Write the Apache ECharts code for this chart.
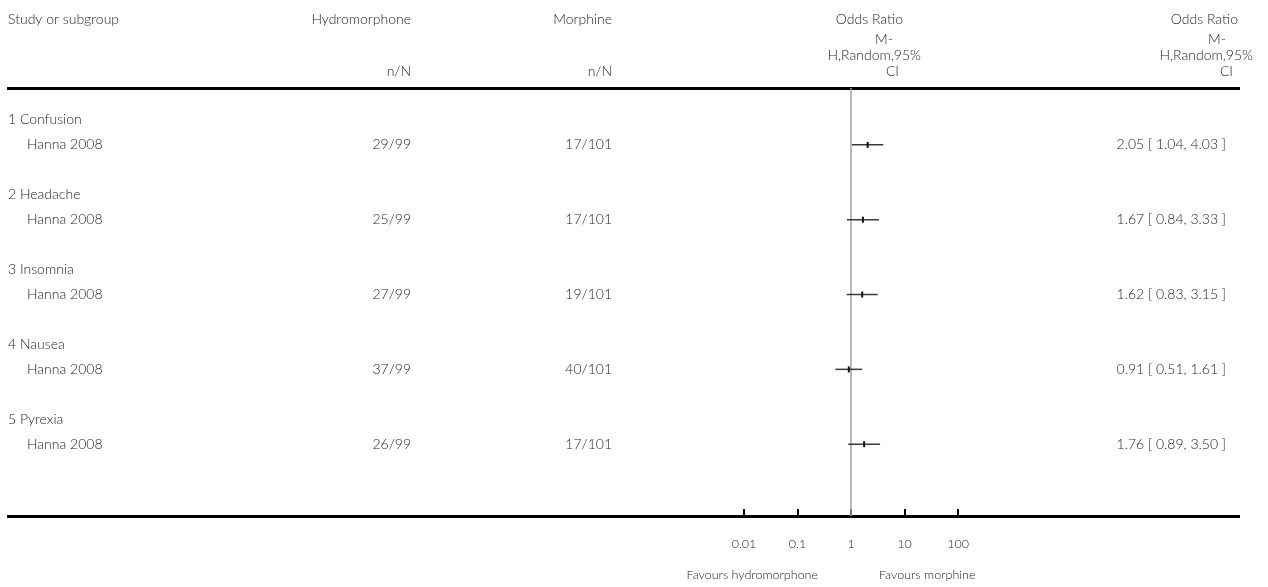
<!DOCTYPE html>
<html>
<head>
<meta charset="utf-8">
<script src="https://cdn.jsdelivr.net/npm/echarts@6/dist/echarts.min.js"></script>
<style>
html,body{margin:0;padding:0;background:#fff;}
#chart{width:1268px;height:587px;}
</style>
</head>
<body>
<div id="chart"></div>
<script>
// ---- data ----
const groups = ['1 Confusion', '2 Headache', '3 Insomnia', '4 Nausea', '5 Pyrexia'];
const studies = ['Hanna 2008', 'Hanna 2008', 'Hanna 2008', 'Hanna 2008', 'Hanna 2008'];
const hydromorphone = ['29/99', '25/99', '27/99', '37/99', '26/99'];
const morphine = ['17/101', '17/101', '19/101', '40/101', '17/101'];
const oddsRatio = [2.05, 1.67, 1.62, 0.91, 1.76];
const ciLow = [1.04, 0.84, 0.83, 0.51, 0.89];
const ciHigh = [4.03, 3.33, 3.15, 1.61, 3.50];
const tickValues = [0.01, 0.1, 1, 10, 100];
const tickLabels = ['0.01', '0.1', '1', '10', '100'];
const headerLeft = 'Study or subgroup';
const headerHydro = 'Hydromorphone';
const headerMorph = 'Morphine';
const headerNN = 'n/N';
const headerOR = ['Odds Ratio', 'M-', 'H,Random,95%', 'CI'];
const favours = ['Favours hydromorphone', 'Favours morphine'];

// ---- layout ----
const FONT = 'Lato, "Open Sans", sans-serif';
const FS = 14;
const TXT = '#1e1e1e';
const gridTop = 88, gridBottomY = 516;
const gridLeft = 744, gridRight = 958;
const yMin = -0.28, yMax = 16.88;

// rows: group header at 3k+1, study at 3k+2
const rowData = groups.map((g, k) => [k, 3 * k + 1, 3 * k + 2]);

function fmt(v) { return v.toFixed(2); }

const chart = echarts.init(document.getElementById('chart'), null, {renderer: 'canvas'});

const textStyle = (x, y, text, align, size) => ({
  type: 'text',
  x: x, y: y,
  style: {text: text, fill: TXT, font: '300 ' + (size || FS) + 'px ' + FONT, align: align, verticalAlign: 'middle'}
});

const option = {
  animation: false,
  backgroundColor: '#fff',
  grid: {left: gridLeft, top: gridTop, width: gridRight - gridLeft, height: gridBottomY - gridTop, containLabel: false},
  xAxis: {
    type: 'log', logBase: 10, min: 0.01, max: 100,
    position: 'bottom',
    axisLine: {show: false, onZero: false},
    axisTick: {show: true, inside: true, length: 7, lineStyle: {color: '#000', width: 2}},
    splitLine: {show: false},
    minorTick: {show: false},
    axisLabel: {
      margin: 21, color: TXT, fontFamily: FONT, fontSize: 12.5, fontWeight: 300,
      formatter: function (v) {
        const i = tickValues.findIndex(t => Math.abs(Math.log10(t) - Math.log10(v)) < 1e-6);
        return i >= 0 ? tickLabels[i] : '';
      }
    }
  },
  yAxis: {type: 'value', inverse: true, min: yMin, max: yMax, show: false},
  series: [
    {
      // line of no effect
      type: 'line',
      data: [[1, yMin], [1, yMax]],
      symbol: 'none',
      lineStyle: {color: '#a0a0a0', width: 1.5},
      z: 1
    },
    {
      type: 'custom',
      data: rowData,
      clip: false,
      renderItem: function (params, api) {
        const k = api.value(0);
        const yHead = api.coord([1, api.value(1)])[1];
        const yStudy = api.coord([1, api.value(2)])[1];
        const pLo = api.coord([ciLow[k], api.value(2)]);
        const pHi = api.coord([ciHigh[k], api.value(2)]);
        const pEst = api.coord([oddsRatio[k], api.value(2)]);
        return {
          type: 'group',
          children: [
            textStyle(8, yHead, groups[k], 'left'),
            textStyle(27, yStudy, studies[k], 'left'),
            textStyle(411, yStudy, hydromorphone[k], 'right'),
            textStyle(612, yStudy, morphine[k], 'right'),
            textStyle(1226, yStudy, fmt(oddsRatio[k]) + ' [ ' + fmt(ciLow[k]) + ', ' + fmt(ciHigh[k]) + ' ]', 'right'),
            {type: 'line', shape: {x1: pLo[0], y1: pLo[1], x2: pHi[0], y2: pHi[1]},
             style: {stroke: '#3a3a3a', lineWidth: 1.5}},
            {type: 'rect', shape: {x: pEst[0] - 1, y: pEst[1] - 3, width: 2, height: 6},
             style: {fill: '#111'}}
          ]
        };
      },
      z: 3
    }
  ],
  graphic: [
    {type: 'rect', shape: {x: 7, y: 87, width: 1233, height: 3}, style: {fill: '#000'}},
    {type: 'rect', shape: {x: 7, y: 515, width: 1233, height: 3}, style: {fill: '#000'}},
    textStyle(8, 19, headerLeft, 'left'),
    textStyle(411, 19, headerHydro, 'right'),
    textStyle(612, 19, headerMorph, 'right'),
    textStyle(411, 71, headerNN, 'right'),
    textStyle(612, 71, headerNN, 'right'),
    textStyle(903, 19, headerOR[0], 'right'),
    textStyle(893, 39, headerOR[1], 'right'),
    textStyle(921, 55, headerOR[2], 'right'),
    textStyle(899, 71, headerOR[3], 'right'),
    textStyle(1238, 19, headerOR[0], 'right'),
    textStyle(1226, 39, headerOR[1], 'right'),
    textStyle(1253, 55, headerOR[2], 'right'),
    textStyle(1233, 71, headerOR[3], 'right'),
    textStyle(818, 575, favours[0], 'right', 12.5),
    textStyle(879, 575, favours[1], 'left', 12.5)
  ]
};
chart.setOption(option);
</script>
</body>
</html>
